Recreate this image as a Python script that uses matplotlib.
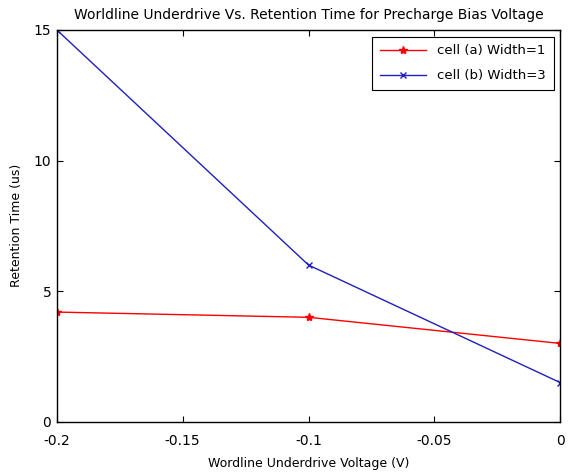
import matplotlib
matplotlib.use('Agg')
import matplotlib.pyplot as plt

# data
voltage = [-0.2, -0.1, 0.0]
cell_a = [4.2, 4.0, 3.0]
cell_b = [15.0, 6.0, 1.5]

x_ticks = [-0.2, -0.15, -0.1, -0.05, 0]
x_labels = ['-0.2', '-0.15', '-0.1', '-0.05', '0']
y_ticks = [0, 5, 10, 15]

plt.rcParams['font.family'] = 'DejaVu Sans'
plt.rcParams['font.size'] = 9

fig = plt.figure(figsize=(5.74, 4.75), dpi=100)
ax = fig.add_axes([0.099, 0.112, 0.877, 0.825])

ax.plot(voltage, cell_a, color='red', marker='*', markersize=6, linewidth=1, label='cell (a) Width=1')
ax.plot(voltage, cell_b, color='#1f1fbf', marker='x', markersize=5, linewidth=1, label='cell (b) Width=3')

ax.set_xlim(-0.2, 0)
ax.set_ylim(0, 15)
ax.set_xticks(x_ticks)
ax.set_xticklabels(x_labels)
ax.set_yticks(y_ticks)
ax.tick_params(direction='in', top=True, right=True, length=4, labelsize=10)
ax.tick_params(axis='x', pad=9)
ax.tick_params(axis='y', pad=4)
for s in ax.spines.values():
    s.set_linewidth(1)

ax.set_title('Worldline Underdrive Vs. Retention Time for Precharge Bias Voltage', fontsize=10, pad=8)
ax.set_xlabel('Wordline Underdrive Voltage (V)', fontsize=9, labelpad=6)
ax.set_ylabel('Retention Time (us)', fontsize=9, labelpad=8)

leg = ax.legend(loc='upper right', fontsize=9.5, fancybox=False, edgecolor='black', framealpha=1,
                handlelength=3.5, labelspacing=0.9, borderaxespad=0.5, borderpad=0.6)
leg.get_frame().set_linewidth(0.8)

fig.savefig('out.png', dpi=100)
